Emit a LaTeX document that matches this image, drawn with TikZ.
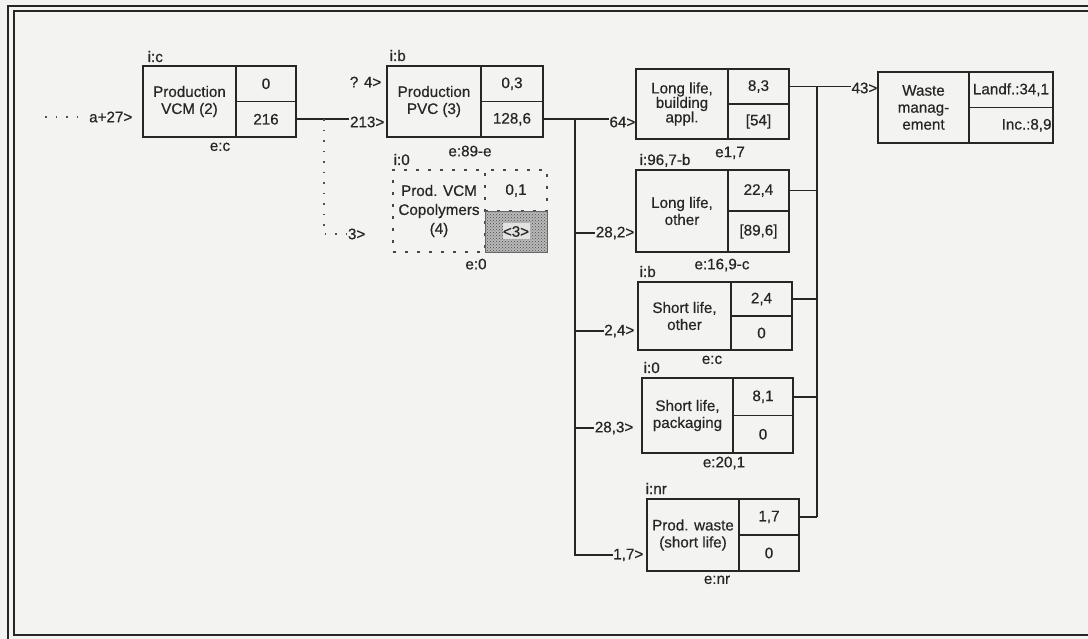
\documentclass[tikz,border=0pt]{standalone}
\usepackage{fontspec}
\setmainfont{Liberation Sans}[FakeBold=0.5]
\usetikzlibrary{patterns}
\definecolor{ink}{HTML}{262626}
\definecolor{paper}{HTML}{F3F3F1}
\newcommand{\dfont}{\fontsize{15.2}{17}\selectfont}
\tikzset{
  pbox/.style={draw=ink,line width=1.5pt,anchor=north west,align=center,inner sep=0pt,outer sep=0pt,minimum width=92pt,font=\dfont,text=ink},
  nbox/.style={pbox,minimum width=61pt},
  dbox/.style={pbox,draw=ink!85,dash pattern=on 3pt off 9pt},
  tag/.style={font=\dfont,inner sep=0.5pt,text=ink},
  ln/.style={line width=1.5pt,draw=ink},
  dl/.style={line width=1.6pt,draw=ink!80,dash pattern=on 1.5pt off 9pt},
}

\begin{document}
\begin{tikzpicture}[x=1pt,y=-1pt]
\fill[paper] (0,0) rectangle (1088,639);
\useasboundingbox (0,0) rectangle (1088,639);
\draw[line width=1.8pt,ink] (1090,6) -- (8,6) -- (8,641);
\draw[line width=2pt,ink] (1090,11) -- (14,11) -- (14,635) -- (1090,635);

% processes
\node[pbox,minimum width=93pt,minimum height=71pt] (vcm) at (143,66) {Production\\VCM (2)};
\node[nbox,minimum width=60pt,minimum height=35.5pt] (vcm1) at (vcm.north east) {0};
\node[nbox,minimum width=60pt,minimum height=35.5pt] (vcm2) at (vcm1.south west) {216};
\node[tag,anchor=base west] (vcmi) at (147,62) {i:c};
\node[tag,anchor=north] (vcme) at (220,142) {e:c};

\node[pbox,minimum width=94pt,minimum height=71pt] (pvc) at (387,66) {Production\\PVC (3)};
\node[nbox,minimum width=62pt,minimum height=35.5pt] (pvc1) at (pvc.north east) {0,3};
\node[nbox,minimum width=62pt,minimum height=35.5pt] (pvc2) at (pvc1.south west) {128,6};
\node[tag,anchor=base west] (pvci) at (389,61) {i:b};
\node[tag,anchor=north] (pvce) at (470,145) {e:89-e};

\node[dbox,minimum height=82pt,font=\fontsize{15.2}{19}\selectfont] (cop) at (393,170) {Prod. VCM\\Copolymers\\(4)};
\node[dbox,minimum width=62pt,minimum height=41pt] (cop1) at (cop.north east) {0,1};
\node[nbox,minimum width=62pt,minimum height=41pt,draw=ink!70,line width=0.8pt,preaction={fill=gray!55},pattern=crosshatch dots,pattern color=ink!85] (cop2) at (cop1.south west) {};
\node[fill=paper!85!gray,inner sep=0pt,minimum width=27pt,minimum height=16pt,font=\dfont,text=ink] (cop3) at (cop2.center) {<3>};
\node[tag,anchor=base west] (copi) at (393,165) {i:0};
\node[tag,anchor=north] (cope) at (476,258) {e:0};

\node[pbox,minimum height=70pt,font=\fontsize{15.2}{14.5}\selectfont] (llb) at (636,69) {Long life,\\building\\appl.};
\node[nbox,minimum height=35pt] (llb1) at (llb.north east) {8,3};
\node[nbox,minimum height=35pt] (llb2) at (llb1.south west) {[54]};
\node[tag,anchor=north] (llbe) at (730,146) {e1,7};

\node[pbox,minimum height=82pt] (llo) at (636,170) {Long life,\\other};
\node[nbox,minimum height=41pt] (llo1) at (llo.north east) {22,4};
\node[nbox,minimum height=41pt] (llo2) at (llo1.south west) {[89,6]};
\node[tag,anchor=base west] (lloi) at (639,165) {i:96,7-b};
\node[tag,anchor=north] (lloe) at (722,258) {e:16,9-c};

\node[pbox,minimum width=93pt,minimum height=68pt] (slo) at (638,282) {Short life,\\other};
\node[nbox,minimum height=34pt] (slo1) at (slo.north east) {2,4};
\node[nbox,minimum height=34pt] (slo2) at (slo1.south west) {0};
\node[tag,anchor=base west] (sloi) at (639,277) {i:b};
\node[tag,anchor=north] (sloe) at (712,355) {e:c};

\node[pbox,minimum width=91pt,minimum height=75pt] (slp) at (642,378) {Short life,\\packaging};
\node[nbox,minimum width=60pt,minimum height=37.5pt] (slp1) at (slp.north east) {8,1};
\node[nbox,minimum width=60pt,minimum height=37.5pt] (slp2) at (slp1.south west) {0};
\node[tag,anchor=base west] (slpi) at (643,373) {i:0};
\node[tag,anchor=north] (slpe) at (724,456) {e:20,1};

\node[pbox,minimum height=72pt] (pw) at (647,499) {Prod. waste\\(short life)};
\node[nbox,minimum width=60pt,minimum height=36pt] (pw1) at (pw.north east) {1,7};
\node[nbox,minimum width=60pt,minimum height=36pt] (pw2) at (pw1.south west) {0};
\node[tag,anchor=base west] (pwi) at (645,494) {i:nr};
\node[tag,anchor=north] (pwe) at (717,575) {e:nr};

\node[pbox,minimum width=91pt,minimum height=71pt] (wm) at (878,72) {Waste\\manag-\\ement};
\node[nbox,minimum width=84pt,minimum height=35.5pt] (wm1) at (wm.north east) {Landf.:34,1};
\node[nbox,minimum width=84pt,minimum height=35.5pt,text width=81pt,align=right] (wm2) at (wm1.south west) {Inc.:8,9};

% flows
\node[tag,anchor=east] (fa27) at (133,117) {a+27>};
\node[tag,anchor=east] (f213) at (385,122) {213>};
\node[tag,anchor=east] (f4) at (382,82) {? 4>};
\node[tag,anchor=east] (f3) at (366,234) {3>};
\node[tag,anchor=east] (f64) at (636,122) {64>};
\node[tag,anchor=east] (f282) at (635,233) {28,2>};
\node[tag,anchor=east] (f24) at (635,331) {2,4>};
\node[tag,anchor=east] (f283) at (634,428) {28,3>};
\node[tag,anchor=east] (f17) at (644,555) {1,7>};
\node[tag,anchor=east] (f43) at (878,88) {43>};

\coordinate (src) at (45,117);
\coordinate (tap) at (vcm2.east -| 324,0);
\coordinate (bus) at (575,0);
\coordinate (col) at (817,0);

\draw[dl,shorten >=5pt] (src) -- (fa27.west);
\draw[ln] (vcm2.east) -- (vcm2.east -| f213.west);
\draw[dl] (tap) |- (f3.west);
\draw[ln] (pvc2.east) -- (pvc2.east -| f64.west);
\draw[ln] (bus |- pvc2.east) -- (bus |- f17.west) -- (f17.west);
\foreach \fl in {f282,f24,f283} \draw[ln] (bus |- \fl.west) -- (\fl.west);
\foreach \bx in {llb1,llo1,slo1,slp1,pw1} \draw[ln] (\bx.east) -- (col |- \bx.east);
\draw[ln] (col |- llb1.east) -- (col |- pw1.east);
\draw[ln] (col |- llb1.east) -- (llb1.east -| f43.west);
\end{tikzpicture}
\end{document}
